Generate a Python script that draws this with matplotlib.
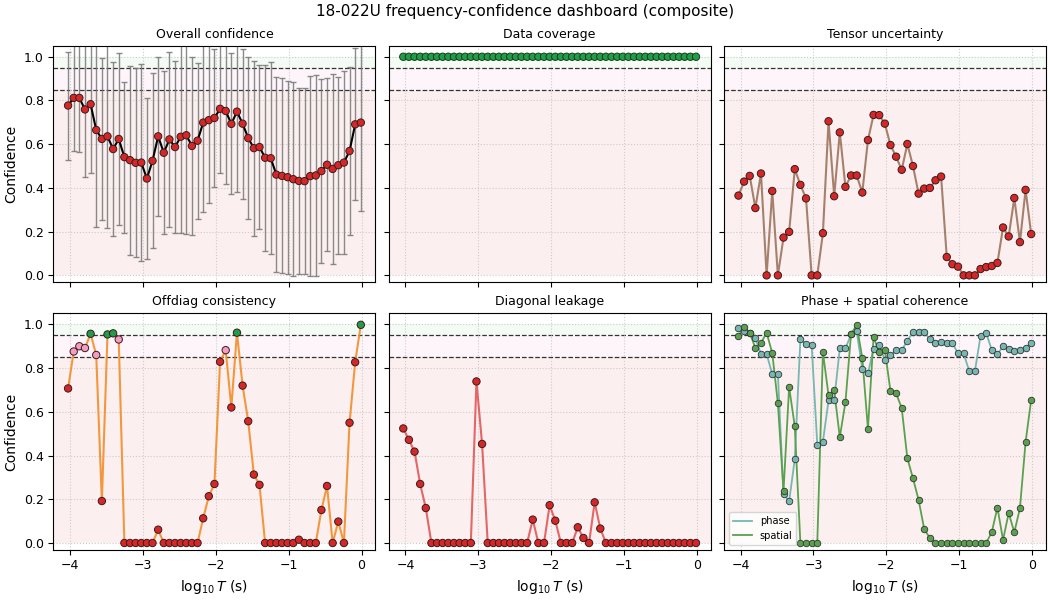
import numpy as np
import matplotlib
matplotlib.use("Agg")
import matplotlib.pyplot as plt

# log10 period grid (53 bins, roughly -4.03 .. -0.01)
log_t = np.linspace(-4.03, -0.01, 53)

overall = [0.777, 0.812, 0.812, 0.759, 0.783, 0.665, 0.624, 0.636, 0.578, 0.624,
           0.541, 0.527, 0.515, 0.516, 0.443, 0.524, 0.636, 0.561, 0.622, 0.587,
           0.634, 0.641, 0.592, 0.616, 0.699, 0.710, 0.720, 0.762, 0.752, 0.693,
           0.749, 0.694, 0.628, 0.582, 0.587, 0.538, 0.536, 0.461, 0.455, 0.449,
           0.440, 0.432, 0.431, 0.454, 0.457, 0.477, 0.506, 0.487, 0.504, 0.516,
           0.569, 0.691, 0.699]
overall_err = [0.247, 0.245, 0.248, 0.310, 0.313, 0.443, 0.370, 0.418, 0.397, 0.395,
               0.345, 0.433, 0.432, 0.449, 0.368, 0.400, 0.365, 0.372, 0.400, 0.395,
               0.440, 0.452, 0.406, 0.357, 0.408, 0.380, 0.314, 0.293, 0.336, 0.322,
               0.366, 0.343, 0.369, 0.400, 0.374, 0.425, 0.438, 0.446, 0.446, 0.441,
               0.444, 0.425, 0.426, 0.457, 0.460, 0.420, 0.395, 0.433, 0.405, 0.417,
               0.386, 0.347, 0.403]

coverage = [1.0] * 53

tensor = [0.365, 0.429, 0.455, 0.308, 0.466, 0.0, 0.386, 0.0, 0.173, 0.199,
          0.486, 0.414, 0.352, 0.0, 0.0, 0.193, 0.705, 0.362, 0.654, 0.405,
          0.457, 0.457, 0.379, 0.619, 0.734, 0.733, 0.694, 0.596, 0.543, 0.483,
          0.601, 0.500, 0.374, 0.397, 0.400, 0.435, 0.452, 0.084, 0.051, 0.040,
          0.0, 0.0, 0.0, 0.029, 0.038, 0.043, 0.057, 0.219, 0.178, 0.354,
          0.152, 0.391, 0.189]

offdiag = [0.707, 0.876, 0.900, 0.892, 0.957, 0.860, 0.192, 0.954, 0.959, 0.931,
           0.0, 0.0, 0.0, 0.0, 0.0, 0.0, 0.061, 0.0, 0.0, 0.0,
           0.0, 0.0, 0.0, 0.0, 0.113, 0.214, 0.270, 0.829, 0.882, 0.620,
           0.962, 0.720, 0.557, 0.313, 0.266, 0.0, 0.0, 0.0, 0.0, 0.0,
           0.0, 0.015, 0.0, 0.0, 0.0, 0.151, 0.261, 0.0, 0.098, 0.0,
           0.550, 0.827, 0.998]

diagonal = [0.524, 0.472, 0.418, 0.270, 0.160, 0.0, 0.0, 0.0, 0.0, 0.0,
            0.0, 0.0, 0.0, 0.739, 0.453, 0.0, 0.0, 0.0, 0.0, 0.0,
            0.0, 0.0, 0.0, 0.107, 0.0, 0.0, 0.173, 0.102, 0.0, 0.0,
            0.0, 0.072, 0.023, 0.0, 0.186, 0.066, 0.0, 0.0, 0.0, 0.0,
            0.0, 0.0, 0.0, 0.0, 0.0, 0.0, 0.0, 0.0, 0.0, 0.0,
            0.0, 0.0, 0.0]

phase = [0.983, 0.968, 0.962, 0.937, 0.864, 0.864, 0.773, 0.773, 0.224, 0.191,
         0.383, 0.931, 0.911, 0.905, 0.450, 0.464, 0.652, 0.652, 0.890, 0.890,
         0.954, 0.969, 0.795, 0.777, 0.887, 0.908, 0.837, 0.858, 0.882, 0.882,
         0.925, 0.966, 0.966, 0.966, 0.931, 0.915, 0.921, 0.915, 0.915, 0.867,
         0.867, 0.786, 0.786, 0.947, 0.962, 0.882, 0.864, 0.899, 0.887, 0.878,
         0.882, 0.892, 0.915]

spatial = [0.947, 0.988, 0.962, 0.892, 0.915, 0.962, 0.869, 0.640, 0.237, 0.713,
           0.534, 0.0, 0.0, 0.0, 0.0, 0.873, 0.676, 0.698, 0.484, 0.644,
           0.956, 0.997, 0.846, 0.521, 0.942, 0.873, 0.884, 0.695, 0.685, 0.617,
           0.388, 0.296, 0.197, 0.063, 0.023, 0.0, 0.0, 0.0, 0.0, 0.0,
           0.0, 0.0, 0.0, 0.0, 0.0, 0.050, 0.162, 0.014, 0.137, 0.049,
           0.159, 0.461, 0.656]

GOOD = 0.95
FAIR = 0.85


def level_colors(vals):
    out = []
    for v in vals:
        if v >= GOOD:
            out.append("#1f9e4a")
        elif v >= FAIR:
            out.append("#f59cc6")
        else:
            out.append("#d62728")
    return out


def decorate(ax, title):
    ax.axhspan(GOOD, 1.0, color="#2ca02c", alpha=0.05, lw=0, zorder=0)
    ax.axhspan(FAIR, GOOD, color="#e377c2", alpha=0.07, lw=0, zorder=0)
    ax.axhspan(0.0, FAIR, color="#d62728", alpha=0.07, lw=0, zorder=0)
    ax.axhline(GOOD, color="#333333", ls="--", lw=0.9, zorder=1)
    ax.axhline(FAIR, color="#333333", ls="--", lw=0.9, zorder=1)
    ax.grid(True, ls=":", color="#cccccc", lw=0.8)
    ax.set_title(title, fontsize=9)
    ax.tick_params(labelsize=9)


fig, axes = plt.subplots(2, 3, figsize=(10.5, 6), dpi=100, sharex=True, sharey=True,
                         layout="constrained")

# overall confidence with uncertainty
ax = axes[0, 0]
decorate(ax, "Overall confidence")
ax.errorbar(log_t, overall, yerr=overall_err, fmt="none", ecolor="#777777",
            elinewidth=1, capsize=2, alpha=0.85, zorder=2)
ax.plot(log_t, overall, color="black", lw=1.5, zorder=3)
ax.scatter(log_t, overall, c=level_colors(overall), s=28, edgecolors="#3a1a1a",
           linewidths=0.7, zorder=4)

ax = axes[0, 1]
decorate(ax, "Data coverage")
ax.plot(log_t, coverage, color="#1f9e4a", lw=1.2, zorder=3)
ax.scatter(log_t, coverage, c=level_colors(coverage), s=28, edgecolors="#1a3a1a",
           linewidths=0.7, zorder=4)

ax = axes[0, 2]
decorate(ax, "Tensor uncertainty")
ax.plot(log_t, tensor, color="#9c755f", lw=1.5, alpha=0.9, zorder=3)
ax.scatter(log_t, tensor, c=level_colors(tensor), s=28, edgecolors="#3a1a1a",
           linewidths=0.7, zorder=4)

ax = axes[1, 0]
decorate(ax, "Offdiag consistency")
ax.plot(log_t, offdiag, color="#f28e2b", lw=1.5, alpha=0.9, zorder=3)
ax.scatter(log_t, offdiag, c=level_colors(offdiag), s=28, edgecolors="#3a1a1a",
           linewidths=0.7, zorder=4)

ax = axes[1, 1]
decorate(ax, "Diagonal leakage")
ax.plot(log_t, diagonal, color="#e15759", lw=1.5, alpha=0.9, zorder=3)
ax.scatter(log_t, diagonal, c=level_colors(diagonal), s=28, edgecolors="#3a1a1a",
           linewidths=0.7, zorder=4)

ax = axes[1, 2]
decorate(ax, "Phase + spatial coherence")
ax.plot(log_t, phase, color="#76b7b2", lw=1.3, label="phase", zorder=3)
ax.scatter(log_t, phase, color="#76b7b2", s=22, edgecolors="#333333",
           linewidths=0.6, zorder=4)
ax.plot(log_t, spatial, color="#59a14f", lw=1.3, label="spatial", zorder=3)
ax.scatter(log_t, spatial, color="#59a14f", s=22, edgecolors="#333333",
           linewidths=0.6, zorder=4)
ax.legend(loc="lower left", fontsize=7)

ax.set_ylim(-0.03, 1.05)
ax.set_xticks([-4, -3, -2, -1, 0])
ax.set_yticks([0.0, 0.2, 0.4, 0.6, 0.8, 1.0])

for a in axes[:, 0]:
    a.set_ylabel("Confidence", fontsize=10)
for a in axes[1, :]:
    a.set_xlabel(r"log$_{10}\,T$ (s)", fontsize=10)

fig.suptitle("18-022U frequency-confidence dashboard (composite)", fontsize=11)
fig.savefig("out.png", dpi=100)
